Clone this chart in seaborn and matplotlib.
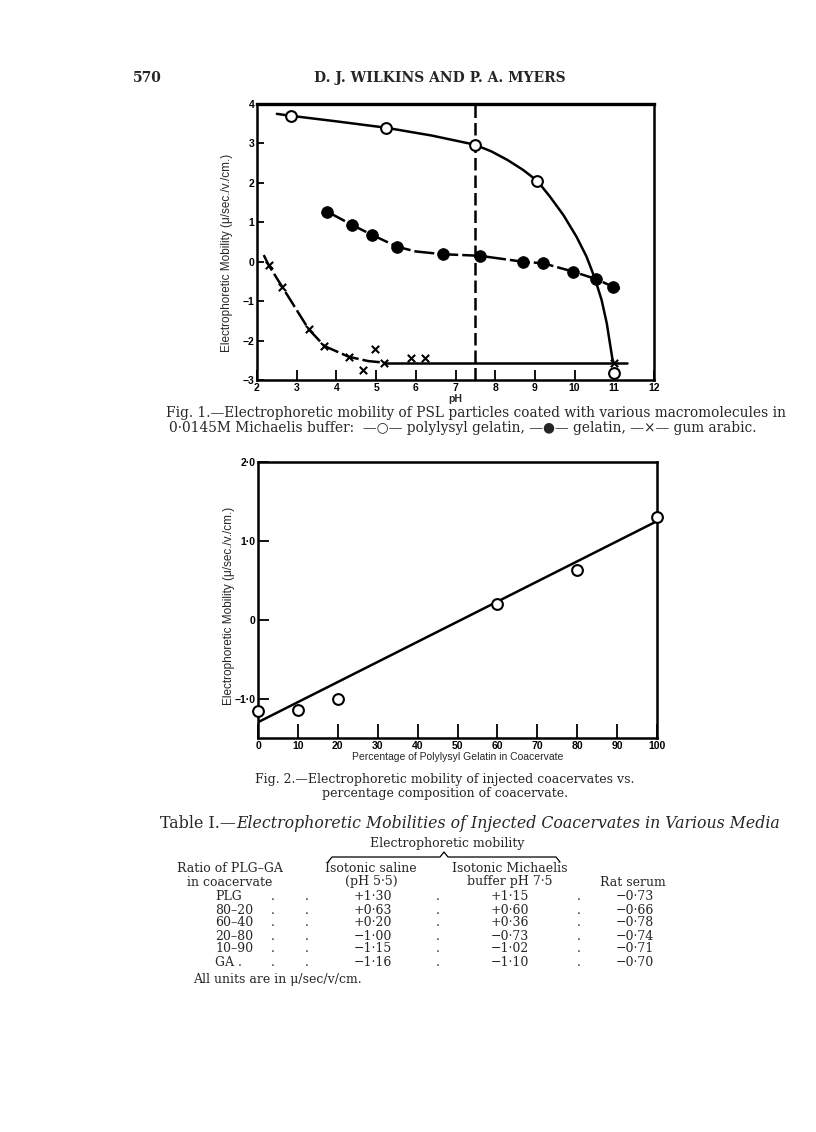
import numpy as np
import pandas as pd
import seaborn as sns
import matplotlib.pyplot as plt
from matplotlib.lines import Line2D

# ---- Fig. 1: mobility vs pH ----
plg_ph = [2.86, 5.24, 7.48, 9.06, 11.0]
plg_mob = [3.70, 3.40, 2.97, 2.05, -2.81]
gel_ph = [3.77, 4.40, 4.90, 5.53, 6.69, 7.61, 8.70, 9.21, 9.96, 10.54, 10.96]
gel_mob = [1.27, 0.93, 0.68, 0.38, 0.19, 0.15, 0.00, -0.04, -0.25, -0.44, -0.63]
ga_ph = [2.29, 2.63, 3.30, 3.70, 4.31, 4.67, 4.97, 5.21, 5.89, 6.22, 11.0]
ga_mob = [-0.08, -0.63, -1.71, -2.14, -2.41, -2.75, -2.22, -2.56, -2.45, -2.45, -2.56]

# hand-drawn curves
plg_curve_ph = [2.50, 2.86, 4.00, 5.24, 6.40, 7.48, 7.90, 8.31, 8.70, 9.06, 9.38, 9.72, 10.05,
                10.30, 10.51, 10.68, 10.81, 10.89, 10.95, 10.98]
plg_curve_mob = [3.75, 3.70, 3.56, 3.40, 3.20, 2.97, 2.80, 2.58, 2.33, 2.05, 1.65, 1.18, 0.63,
                 0.13, -0.42, -0.97, -1.56, -2.07, -2.45, -2.56]
gel_curve_ph = [3.77, 4.40, 4.90, 5.53, 6.00, 6.69, 7.61, 8.70, 9.21, 9.96, 10.54, 10.96, 11.14]
gel_curve_mob = [1.27, 0.93, 0.68, 0.38, 0.26, 0.19, 0.15, 0.00, -0.04, -0.25, -0.44, -0.63, -0.69]
ga_curve_ph = [2.17, 2.29, 2.63, 3.30, 3.70, 4.31, 4.80, 5.21]
ga_curve_mob = [0.17, -0.08, -0.63, -1.71, -2.14, -2.41, -2.52, -2.56]
ga_flat_ph = [5.21, 11.33]
ga_flat_mob = [-2.56, -2.56]
marker_ph = 7.5

# ---- Fig. 2 / Table I ----
ratios = ['PLG', '80–20', '60–40', '20–80', '10–90', 'GA .']
pct_plg = [100, 80, 60, 20, 10, 0]
saline = [1.30, 0.63, 0.20, -1.00, -1.15, -1.16]
michaelis = [1.15, 0.60, 0.36, -0.73, -1.02, -1.10]
rat_serum = [-0.73, -0.66, -0.78, -0.74, -0.71, -0.70]
fit_pct = [0, 100]
fit_mob = [-1.30, 1.25]

W, H = 816, 1132
sns.set_style('ticks')
plt.rcParams['font.family'] = ['Liberation Sans', 'DejaVu Sans']
serif = ['DejaVu Serif', 'DejaVu Sans']

fig = plt.figure(figsize=(W / 100, H / 100), dpi=100)


def px(x, y):
    return x / W, 1 - y / H


def frame(ax):
    for s in ax.spines.values():
        s.set_visible(True)
        s.set_linewidth(1.8)
        s.set_color('black')
    ax.tick_params(direction='in', width=1.3, colors='black', labelsize=7.5, pad=2)
    ax.tick_params(axis='x', length=7)
    ax.tick_params(axis='y', length=5)
    for lab in ax.get_xticklabels() + ax.get_yticklabels():
        lab.set_fontweight('bold')


# ---------- Fig. 1 ----------
ax1 = fig.add_axes([257 / W, 1 - 380 / H, 397 / W, 276 / H])
sns.lineplot(x=plg_curve_ph, y=plg_curve_mob, sort=False, estimator=None, color='black', lw=1.8, ax=ax1)
sns.lineplot(x=gel_curve_ph, y=gel_curve_mob, sort=False, estimator=None, color='black', lw=1.8, ax=ax1)
ax1.lines[-1].set_dashes((8, 1.6))
sns.lineplot(x=ga_curve_ph, y=ga_curve_mob, sort=False, estimator=None, color='black', lw=1.8, ax=ax1)
ax1.lines[-1].set_dashes((7, 1.6))
sns.lineplot(x=ga_flat_ph, y=ga_flat_mob, sort=False, estimator=None, color='black', lw=1.8, ax=ax1)
ax1.axvline(marker_ph, color='black', lw=1.8, dashes=(5, 2))
sns.scatterplot(x=gel_ph, y=gel_mob, marker='o', s=70, color='black', edgecolor='black', zorder=3, ax=ax1)
sns.scatterplot(x=plg_ph, y=plg_mob, marker='o', s=60, facecolor='white', edgecolor='black', linewidth=1.5,
                zorder=4, ax=ax1)
sns.scatterplot(x=ga_ph, y=ga_mob, marker='x', s=28, color='black', linewidth=1.5, zorder=4, ax=ax1)
ax1.set_xlim(2, 12)
ax1.set_ylim(-3, 4)
ax1.set_xticks(range(2, 13))
ax1.set_yticks(range(-3, 5))
ax1.set_xticklabels([str(v) for v in range(2, 13)])
ax1.set_yticklabels([str(v).replace('-', '−') for v in range(-3, 5)])
frame(ax1)
ax1.spines['top'].set_linewidth(2.4)
ax1.set_xlabel('pH', fontsize=7.5, fontweight='bold')
ax1.set_ylabel('Electrophoretic Mobility (μ/sec./v./cm.)', fontsize=8.5)
ax1.xaxis.set_label_coords(0.5, -0.05)
ax1.yaxis.set_label_coords(-0.06, 0.46)

# ---------- Fig. 2 ----------
ax2 = fig.add_axes([258 / W, 1 - 738 / H, 399 / W, 276 / H])
sns.lineplot(x=fit_pct, y=fit_mob, color='black', lw=1.8, ax=ax2)
sns.scatterplot(x=pct_plg, y=saline, marker='o', s=60, facecolor='white', edgecolor='black', linewidth=1.5,
                zorder=4, clip_on=False, ax=ax2)
ax2.set_xlim(0, 100)
ax2.set_ylim(-1.5, 2.0)
ax2.set_xticks(range(0, 101, 10))
ax2.set_yticks([2.0, 1.0, 0, -1.0])
ax2.set_xticklabels([str(v) for v in range(0, 101, 10)])
ax2.set_yticklabels(['2·0', '1·0', '0', '−1·0'])
frame(ax2)
ax2.tick_params(axis='x', length=10)
ax2.tick_params(axis='y', length=8)
ax2.set_xlabel('Percentage of Polylysyl Gelatin in Coacervate', fontsize=7.5)
ax2.set_ylabel('Electrophoretic Mobility (μ/sec./v./cm.)', fontsize=8.5)
ax2.xaxis.set_label_coords(0.5, -0.05)
ax2.yaxis.set_label_coords(-0.058, 0.48)

# ---------- page text ----------
fig.text(*px(133, 78), '570', fontsize=10, family=serif, fontweight='bold', va='center', ha='left')
fig.text(*px(440, 78), 'D. J. WILKINS AND P. A. MYERS', fontsize=10, family=serif, fontweight='bold',
         va='center', ha='center')

fig.text(*px(166, 413), 'Fig. 1.—Electrophoretic mobility of PSL particles coated with various macromolecules in',
         fontsize=9.9, family=serif, va='center', ha='left')
fig.text(*px(169, 428), '0·0145M Michaelis buffer:  —○— polylysyl gelatin, —●— gelatin, —×— gum arabic.',
         fontsize=9.9, family=serif, va='center', ha='left')

fig.text(*px(445, 780), 'Fig. 2.—Electrophoretic mobility of injected coacervates vs.',
         fontsize=9, family=serif, va='center', ha='center')
fig.text(*px(445, 794), 'percentage composition of coacervate.',
         fontsize=9, family=serif, va='center', ha='center')

fig.text(*px(236, 823), 'Table I.—', fontsize=11.4, family=serif, va='center', ha='right')
fig.text(*px(236, 823), 'Electrophoretic Mobilities of Injected Coacervates in Various Media',
         fontsize=11.3, family=serif, style='italic', va='center', ha='left')

fig.text(*px(447, 843), 'Electrophoretic mobility', fontsize=9, family=serif, va='center', ha='center')
# brace
bx = [328, 332, 440, 444, 448, 556, 560]
by = [862, 857, 857, 852, 857, 857, 862]
fig.add_artist(Line2D([x / W for x in bx], [1 - y / H for y in by], color='black', lw=0.9,
                      transform=fig.transFigure))

heads = [(230, ['Ratio of PLG–GA', 'in coacervate']),
         (371, ['Isotonic saline', '(pH 5·5)']),
         (510, ['Isotonic Michaelis', 'buffer pH 7·5']),
         (633, ['', 'Rat serum'])]
for cx, lines in heads:
    for k, t in enumerate(lines):
        fig.text(*px(cx, 868 + 14 * k), t, fontsize=9, family=serif, va='center', ha='center')


def fmt(v):
    return ('+' if v > 0 else '−') + f'{abs(v):.2f}'.replace('.', '·')


for i, r in enumerate(ratios):
    y = 897 + 13 * i
    fig.text(*px(215, y), r, fontsize=9, family=serif, va='center', ha='left')
    for dx in (273, 307, 438, 579):
        fig.text(*px(dx, y), '.', fontsize=9, family=serif, va='center', ha='center')
    fig.text(*px(373, y), fmt(saline[i]), fontsize=9, family=serif, va='center', ha='center')
    fig.text(*px(510, y), fmt(michaelis[i]), fontsize=9, family=serif, va='center', ha='center')
    fig.text(*px(635, y), fmt(rat_serum[i]), fontsize=9, family=serif, va='center', ha='center')

fig.text(*px(193, 980), 'All units are in μ/sec/v/cm.', fontsize=9, family=serif, va='center', ha='left')

fig.savefig('out.png', dpi=100, facecolor='white')
